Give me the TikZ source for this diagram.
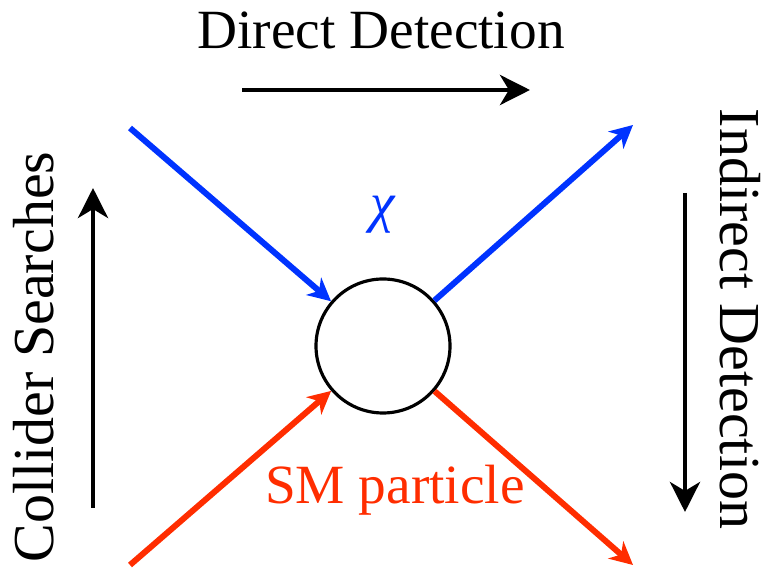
\documentclass[tikz,border=0pt]{standalone}
\usepackage{fontspec}
\setmainfont{Liberation Serif}
\usetikzlibrary{arrows.meta}
\definecolor{chiblue}{RGB}{0,51,255}
\definecolor{smred}{RGB}{255,45,0}
\tikzset{
    big/.style={font=\fontsize{31.5}{36}\selectfont},
    side/.style={font=\fontsize{33}{38}\selectfont},
    flow/.style={line width=2.8pt, -{Stealth[length=17pt,width=17pt,inset=5pt]}},
    leg/.style={line width=3.4pt, -{Stealth[length=13pt,width=13pt,inset=4pt]}}
}
\begin{document}
\begin{tikzpicture}[x=0.02cm, y=0.02cm]
    \useasboundingbox (0,0) rectangle (768,575);
    \node[circle,draw,line width=1.8pt,minimum size=134*0.02cm,inner sep=0pt] (blob) at (383,229) {};

    \coordinate (chiin) at (130,447);
    \coordinate (chiout) at (633,450);
    \coordinate (smin) at (130,10);
    \coordinate (smout) at (633,10);

    \draw[leg, chiblue] (chiin) -- (blob);
    \draw[leg, chiblue] (blob) -- (chiout);
    \draw[leg, smred] (smin) -- (blob);
    \draw[leg, smred] (blob) -- (smout);

    \node[big, text=chiblue] (chi) at (383,360) {\textit{χ}};
    \node[big, text=smred] (sm) at (395,85) {SM particle};

    \node[big] (dd) at (381,545) {Direct Detection};
    \node[side, rotate=90] (cs) at (34,218) {Collider Searches};
    \node[side, rotate=-90] (id) at (740,256) {Indirect Detection};

    \coordinate (dda) at (242,485);
    \coordinate (ddb) at (530,485);
    \coordinate (csa) at (93,67);
    \coordinate (csb) at (93,387);
    \coordinate (ida) at (685,382);
    \coordinate (idb) at (685,63);

    \draw[flow] (dda) -- (ddb);
    \draw[flow] (csa) -- (csb);
    \draw[flow] (ida) -- (idb);
\end{tikzpicture}
\end{document}
